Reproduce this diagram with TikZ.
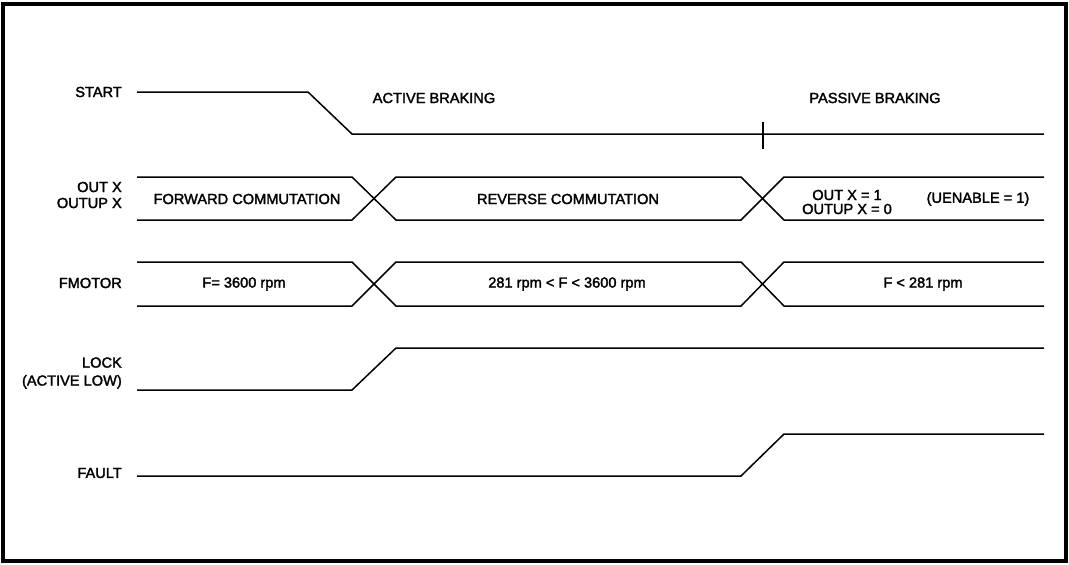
\documentclass[tikz,border=0pt]{standalone}
\usepackage{fontspec}
\setmainfont{Liberation Sans}[RawFeature={embolden=2}]
\begin{document}
\begin{tikzpicture}[x=1pt,y=-1pt,
  sig/.style={line width=1.5pt, line join=miter},
  lbl/.style={font=\fontsize{14.6}{16}\selectfont, inner sep=0pt},
  rlbl/.style={lbl, anchor=east, align=right},
  frame/.style={line width=4pt}]
\useasboundingbox (0,0) rectangle (1069,565);
\draw[frame] (3,4) rectangle (1066,561);

% labels
\node[rlbl] (lstart) at (122,92) {START};
\node[rlbl] (loutx) at (122,195) {OUT X\\[0pt]OUTUP X};
\node[rlbl] (lfm) at (122,283) {FMOTOR};
\node[rlbl] (llock) at (122,373) {LOCK\\[2pt](ACTIVE LOW)};
\node[rlbl] (lfault) at (122,473) {FAULT};

% START
\draw[sig] (137,92) -- (308,92) -- (352,134) -- (1044,134);
\draw[sig] (763,122) -- (763,149);
\node[lbl] (tab) at (434,98) {ACTIVE BRAKING};
\node[lbl] (tpb) at (875,98) {PASSIVE BRAKING};

% OUT X bus
\draw[sig] (137,177) -- (352,177) -- (396,220) -- (741,220) -- (784,177) -- (1044,177);
\draw[sig] (137,220) -- (352,220) -- (396,177) -- (741,177) -- (784,220) -- (1044,220);
\node[lbl] (tfc) at (247,199) {FORWARD COMMUTATION};
\node[lbl] (trc) at (568,199) {REVERSE COMMUTATION};
\node[lbl, align=center] (tox) at (847,202) {OUT X = 1\\[-2pt]OUTUP X = 0};
\node[lbl] (tue) at (978,199) {(UENABLE = 1)};

% FMOTOR bus
\draw[sig] (137,262) -- (352,262) -- (396,306) -- (741,306) -- (784,262) -- (1044,262);
\draw[sig] (137,306) -- (352,306) -- (396,262) -- (741,262) -- (784,306) -- (1044,306);
\node[lbl] (tf1) at (244,284) {F= 3600 rpm};
\node[lbl] (tf2) at (567,284) {281 rpm < F < 3600 rpm};
\node[lbl] (tf3) at (923,284) {F < 281 rpm};

% LOCK
\draw[sig] (137,390) -- (352,390) -- (396,348) -- (1044,348);
% FAULT
\draw[sig] (137,476) -- (741,476) -- (784,434) -- (1044,434);
\end{tikzpicture}
\end{document}
